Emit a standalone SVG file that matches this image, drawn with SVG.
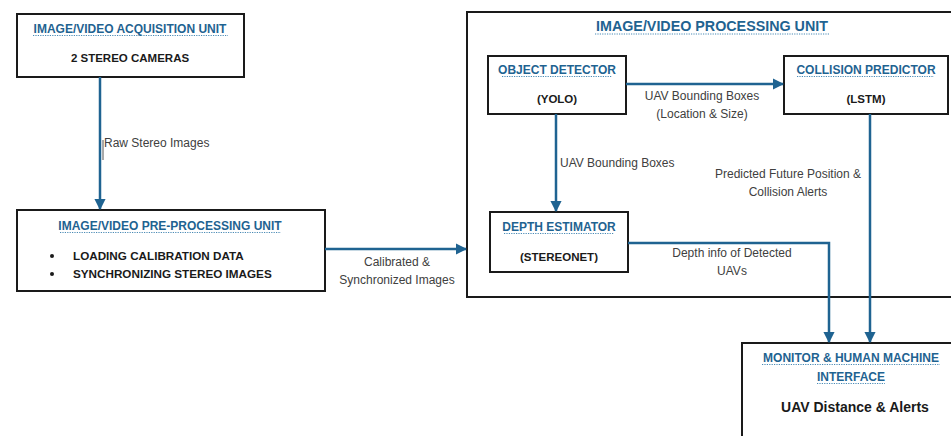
<svg xmlns="http://www.w3.org/2000/svg" width="951" height="436" viewBox="0 0 951 436">
<style>
.box{fill:#fff;stroke:#1a1a1a;stroke-width:2}
.ttl{font-family:"Liberation Sans",Arial,sans-serif;font-weight:bold;font-size:12px;fill:#1f6391;text-anchor:middle}
.ttlL{font-family:"Liberation Sans",Arial,sans-serif;font-weight:bold;font-size:14.3px;fill:#1f6391;text-anchor:middle}
.ul{stroke:#4a8ab5;stroke-width:1.2;stroke-dasharray:1.2,1.2}
.bd{font-family:"Liberation Sans",Arial,sans-serif;font-weight:bold;font-size:11.5px;fill:#1a1a1a;text-anchor:middle}
.bdl{font-family:"Liberation Sans",Arial,sans-serif;font-weight:bold;font-size:11.7px;fill:#1a1a1a}
.lbl{font-family:"Liberation Sans",Arial,sans-serif;font-size:12px;fill:#404040;text-anchor:middle}
.lbll{font-family:"Liberation Sans",Arial,sans-serif;font-size:12px;fill:#404040}
.con{fill:none;stroke:#1f6391;stroke-width:2.5}
</style>
<defs>
<marker id="ah" viewBox="0 0 10 10" refX="9" refY="5" markerWidth="4.5" markerHeight="4.5" orient="auto" markerUnits="strokeWidth">
<path d="M0,0 L10,5 L0,10 z" fill="#1f6391"/>
</marker>
</defs>
<rect width="951" height="436" fill="#fff"/>

<g id="processing-unit">
<rect class="box" x="467" y="12" width="490" height="285"/>
<text class="ttlL" x="712" y="31">IMAGE/VIDEO PROCESSING UNIT</text>
<line class="ul" x1="595" y1="34" x2="829" y2="34"/>
</g>

<g id="acquisition-unit">
<rect class="box" x="17" y="14" width="227" height="63"/>
<text class="ttl" x="130" y="33">IMAGE/VIDEO ACQUISITION UNIT</text>
<line class="ul" x1="33" y1="35.5" x2="228" y2="35.5"/>
<text class="bd" x="130" y="62">2 STEREO CAMERAS</text>
</g>

<g id="preprocessing-unit">
<rect class="box" x="17" y="210" width="308" height="81"/>
<text class="ttl" x="170" y="230">IMAGE/VIDEO PRE-PROCESSING UNIT</text>
<line class="ul" x1="60" y1="232.5" x2="281" y2="232.5"/>
<circle cx="52" cy="256" r="2" fill="#1a1a1a"/>
<circle cx="52" cy="274" r="2" fill="#1a1a1a"/>
<text class="bdl" x="73" y="260">LOADING CALIBRATION DATA</text>
<text class="bdl" x="73" y="278">SYNCHRONIZING STEREO IMAGES</text>
</g>

<g id="object-detector">
<rect class="box" x="488" y="56" width="138" height="58"/>
<text class="ttl" x="557" y="74">OBJECT DETECTOR</text>
<line class="ul" x1="502" y1="76.5" x2="612" y2="76.5"/>
<text class="bd" x="557" y="103">(YOLO)</text>
</g>

<g id="collision-predictor">
<rect class="box" x="784" y="56" width="164" height="58"/>
<text class="ttl" x="866" y="74">COLLISION PREDICTOR</text>
<line class="ul" x1="797" y1="76.5" x2="934" y2="76.5"/>
<text class="bd" x="866" y="103">(LSTM)</text>
</g>

<g id="depth-estimator">
<rect class="box" x="490" y="212" width="138" height="60"/>
<text class="ttl" x="559" y="231">DEPTH ESTIMATOR</text>
<line class="ul" x1="504" y1="233.5" x2="614" y2="233.5"/>
<text class="bd" x="559" y="261">(STEREONET)</text>
</g>

<g id="monitor-hmi">
<rect class="box" x="742" y="343" width="215" height="100"/>
<text class="ttl" x="851" y="362">MONITOR &amp; HUMAN MACHINE</text>
<line class="ul" x1="762" y1="364.5" x2="940" y2="364.5"/>
<text class="ttl" x="851" y="381">INTERFACE</text>
<line class="ul" x1="817" y1="383.5" x2="885" y2="383.5"/>
<text class="bd" x="855" y="412" style="font-size:14px">UAV Distance &amp; Alerts</text>
</g>

<g id="connectors">
<line class="con" x1="100" y1="77" x2="100" y2="209" marker-end="url(#ah)"/>
<line x1="103" y1="140" x2="103" y2="160" stroke="#555" stroke-width="1"/>
<text class="lbll" x="104" y="147">Raw Stereo Images</text>

<line class="con" x1="325" y1="249" x2="466" y2="249" marker-end="url(#ah)"/>
<text class="lbl" x="397" y="266">Calibrated &amp;</text>
<text class="lbl" x="397" y="284">Synchronized Images</text>

<line class="con" x1="626" y1="84" x2="783" y2="84" marker-end="url(#ah)"/>
<text class="lbl" x="702" y="100">UAV Bounding Boxes</text>
<text class="lbl" x="702" y="118">(Location &amp; Size)</text>

<line class="con" x1="556" y1="114" x2="556" y2="211" marker-end="url(#ah)"/>
<text class="lbll" x="560" y="167">UAV Bounding Boxes</text>

<polyline class="con" points="628,243 829,243 829,342" marker-end="url(#ah)"/>
<text class="lbl" x="732" y="257">Depth info of Detected</text>
<text class="lbl" x="732" y="275">UAVs</text>

<line class="con" x1="870" y1="114" x2="870" y2="342" marker-end="url(#ah)"/>
<text class="lbl" x="788" y="178">Predicted Future Position &amp;</text>
<text class="lbl" x="788" y="196">Collision Alerts</text>
</g>
</svg>
